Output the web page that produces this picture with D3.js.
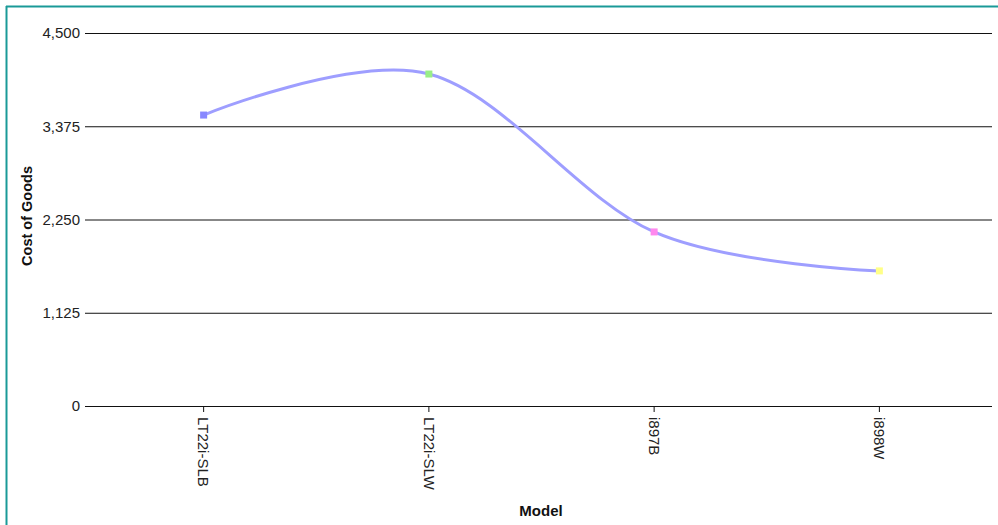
<!DOCTYPE html>
<html><head><meta charset="utf-8">
<script src="https://cdn.jsdelivr.net/npm/d3@7"></script>
<style>body{margin:0;background:#fff}svg{display:block}</style>
</head><body>
<svg id="c" width="998" height="525"></svg>
<script>
const categories = ["LT22i-SLB", "LT22i-SLW", "i897B", "i898W"];
const values = [3510, 4005, 2100, 1630];
const markerColors = ["#8888ff", "#99ee88", "#ff88ee", "#ffff88"];
const yTicks = [0, 1125, 2250, 3375, 4500];

const svg = d3.select("#c");
const W = 998, H = 525;
const m = {left: 91, right: 6, top: 33, bottom: 119};
const FF = "Liberation Sans, Arial, sans-serif";

// frame (top and left teal border)
svg.append("line").attr("x1", 6).attr("x2", W).attr("y1", 6.5).attr("y2", 6.5)
  .attr("stroke", "#1a9a98").attr("stroke-width", 2);
svg.append("line").attr("x1", 6.5).attr("x2", 6.5).attr("y1", 6).attr("y2", H)
  .attr("stroke", "#1a9a98").attr("stroke-width", 2);

const x = d3.scaleBand().domain(categories).range([m.left, W - m.right]);
const y = d3.scaleLinear().domain([0, 4500]).range([H - m.bottom, m.top]);

// grid + y ticks
const ya = svg.append("g").attr("transform", `translate(${m.left},0)`)
  .call(d3.axisLeft(y).tickValues(yTicks).tickSize(6).tickPadding(5).tickFormat(d3.format(",")));
ya.select(".domain").remove();
ya.selectAll(".tick line").attr("stroke", "#111");
ya.selectAll(".tick").append("line").attr("x1", 0).attr("x2", W - m.right - m.left)
  .attr("stroke", "#111").attr("stroke-width", 1);
ya.selectAll("text").attr("font-family", FF)
  .attr("font-size", 15).attr("fill", "#222");

// x axis
const xa = svg.append("g").attr("transform", `translate(0,${H - m.bottom})`)
  .call(d3.axisBottom(x).tickSize(6).tickSizeOuter(0));
xa.select(".domain").remove();
xa.selectAll(".tick line").attr("stroke", "#111");
xa.selectAll("text")
  .attr("font-family", FF).attr("font-size", 15).attr("fill", "#222")
  .attr("transform", "rotate(90)").attr("text-anchor", "start")
  .attr("x", 11).attr("y", 0).attr("dy", "0.35em");

// line
const pts = categories.map((c, i) => [x(c) + x.bandwidth() / 2, y(values[i])]);
svg.append("path").attr("d", d3.line().curve(d3.curveCardinal.tension(0))(pts))
  .attr("fill", "none").attr("stroke", "#9e9eff").attr("stroke-width", 3);

// markers
svg.selectAll("rect.mk").data(categories).join("rect").attr("class", "mk")
  .attr("x", (c) => x(c) + x.bandwidth() / 2 - 3.5)
  .attr("y", (c, i) => y(values[i]) - 3.5)
  .attr("width", 7).attr("height", 7)
  .attr("fill", (c, i) => markerColors[i]);

// axis titles
svg.append("text").attr("transform", `translate(32,${216}) rotate(-90)`)
  .attr("text-anchor", "middle").attr("font-family", FF)
  .attr("font-size", 14.5).attr("font-weight", "bold").attr("fill", "#111").text("Cost of Goods");
svg.append("text").attr("x", 541).attr("y", 516)
  .attr("text-anchor", "middle").attr("font-family", FF)
  .attr("font-size", 15).attr("font-weight", "bold").attr("fill", "#111").text("Model");
</script>
</body></html>
